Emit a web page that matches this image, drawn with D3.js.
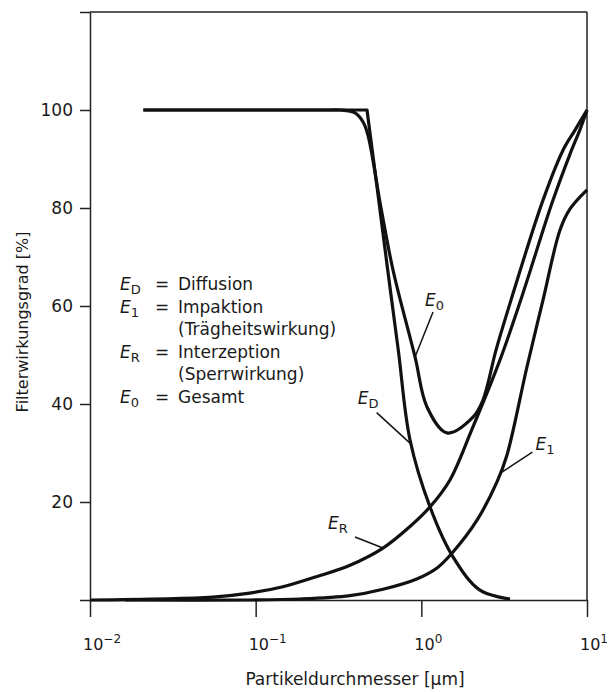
<!DOCTYPE html>
<html>
<head>
<meta charset="utf-8">
<script src="https://cdn.jsdelivr.net/npm/d3@7"></script>
<style>
body { margin: 0; background: #fff; }
text { font-family: "DejaVu Sans", sans-serif; fill: #1a1a1a; }
.axis path, .axis line { stroke: #222; stroke-width: 1.5px; }
</style>
</head>
<body>
<script>
// values: particle diameter [um] -> efficiency [%]
// (corner of the diffusion curve is listed twice to keep it sharp)
var diffD = [0.021, 0.47, 0.47, 0.543, 0.627, 0.726, 0.854, 1.128, 1.553, 2.26, 3.43];
var diffE = [100, 100, 100, 83.7, 67.3, 51.0, 32.7, 19.0, 8.8, 2.0, 0.2];

var totD = [0.021, 0.28, 0.323, 0.398, 0.444, 0.476, 0.571, 0.675, 0.916, 1.082, 1.428, 2.05, 2.356, 2.823, 3.477, 5.425, 7.164, 8.466, 10];
var totE = [100, 100, 100, 99.4, 97.6, 94.9, 80, 67.3, 49.6, 39.4, 34.1, 37.3, 40.8, 51.0, 61.2, 81.6, 91.8, 95.9, 100];

var intD = [0.01, 0.055, 0.092, 0.146, 0.235, 0.371, 0.587, 0.854, 1.128, 1.489, 2.014, 2.984, 4.052, 6.147, 7.896, 9.073, 10];
var intE = [0, 0.6, 1.4, 2.7, 4.8, 7.1, 10.6, 15.0, 19.0, 24.5, 34.7, 49.0, 62.0, 81.0, 91.0, 96.0, 100];

var impD = [0.0163, 0.092, 0.185, 0.371, 0.587, 0.938, 1.25, 1.553, 2.168, 2.862, 3.289, 4.343, 5.425, 6.871, 7.896, 10];
var impE = [0, 0, 0.2, 0.9, 2.2, 4.3, 6.6, 9.8, 16.3, 24.1, 29.6, 47.6, 61.2, 75.5, 79.8, 83.7];

var yTicks = [0, 20, 40, 60, 80, 100, 120];
var xTicks = [0.01, 0.1, 1, 10];
var xExp = ["\u22122", "\u22121", "0", "1"];

// curve labels: symbol subscript, point on curve
var annSub = ["0", "D", "1", "R"];
var annAt = [[0.916, 49.6], [0.874, 31.7], [3.0, 25.9], [0.587, 10.6]];

var legSub = ["D", "1", "", "R", "", "0"];
var legText = ["Diffusion", "Impaktion", "(Tr\u00e4gheitswirkung)", "Interzeption", "(Sperrwirkung)", "Gesamt"];

var w = 608, h = 692;

var svg = d3.select("body").append("svg")
    .attr("width", w)
    .attr("height", h);

var x = d3.scaleLog().domain([0.01, 10]).range([90, 587]);
var y = d3.scaleLinear().domain([0, 120]).range([600, 12]);

// y axis
svg.append("g")
    .attr("class", "axis")
    .attr("transform", "translate(" + x.range()[0] + ",0)")
    .call(d3.axisLeft(y).tickValues(yTicks).tickSize(10).tickSizeOuter(0).tickPadding(7)
        .tickFormat(function (d) { return (d > 0 && d < 120) ? d : ""; }))
    .call(function (g) { g.selectAll("text").style("font-size", "17px").attr("fill", "#1a1a1a"); });

// x axis
svg.append("g")
    .attr("class", "axis")
    .attr("transform", "translate(0," + y(0) + ")")
    .call(d3.axisBottom(x).tickValues(xTicks).tickSize(17).tickSizeOuter(0).tickFormat(""));

var xl = svg.selectAll(".xlab")
    .data(xTicks)
    .enter()
    .append("text")
    .attr("class", "xlab")
    .attr("x", function (d) { return x(d) - 7; })
    .attr("y", 650)
    .style("font-size", "16px");
xl.append("tspan").text("10");
xl.append("tspan")
    .attr("dy", -7)
    .style("font-size", "12px")
    .text(function (d, i) { return xExp[i]; });

// frame: top and right
svg.append("line")
    .attr("x1", x.range()[0]).attr("x2", x.range()[1])
    .attr("y1", y(120)).attr("y2", y(120))
    .style("stroke", "#222").style("stroke-width", 1.5);
svg.append("line")
    .attr("x1", x.range()[1]).attr("x2", x.range()[1])
    .attr("y1", y(120)).attr("y2", y(0))
    .style("stroke", "#222").style("stroke-width", 1.5);

// axis titles
svg.append("text")
    .attr("transform", "translate(28,322) rotate(-90)")
    .attr("text-anchor", "middle")
    .style("font-size", "16px")
    .text("Filterwirkungsgrad [%]");

svg.append("text")
    .attr("x", 355)
    .attr("y", 685)
    .attr("text-anchor", "middle")
    .style("font-size", "17px")
    .text("Partikeldurchmesser [\u00b5m]");

// curves
var line = d3.line()
    .x(function (d) { return x(d[0]); })
    .y(function (d) { return y(d[1]); })
    .curve(d3.curveCatmullRom.alpha(0.5));

var series = [d3.zip(diffD, diffE), d3.zip(totD, totE), d3.zip(intD, intE), d3.zip(impD, impE)];

svg.selectAll(".curve")
    .data(series)
    .enter()
    .append("path")
    .attr("class", "curve")
    .attr("d", line)
    .style("fill", "none")
    .style("stroke", "#111")
    .style("stroke-width", 3.2)
    .style("stroke-linejoin", "round");

// curve labels with leader lines
var leadOff = [[18, -45], [-35, -32], [32, -21], [-28, -11]];
var textOff = [[10, -51], [-54, -41], [35, -23], [-55, -19]];

svg.selectAll(".lead")
    .data(annAt)
    .enter()
    .append("line")
    .attr("class", "lead")
    .attr("x1", function (d) { return x(d[0]); })
    .attr("y1", function (d) { return y(d[1]); })
    .attr("x2", function (d, i) { return x(d[0]) + leadOff[i][0]; })
    .attr("y2", function (d, i) { return y(d[1]) + leadOff[i][1]; })
    .style("stroke", "#111")
    .style("stroke-width", 1.5);

var al = svg.selectAll(".ann")
    .data(annAt)
    .enter()
    .append("text")
    .attr("class", "ann")
    .attr("x", function (d, i) { return x(d[0]) + textOff[i][0]; })
    .attr("y", function (d, i) { return y(d[1]) + textOff[i][1]; })
    .style("font-size", "17px");
al.append("tspan").style("font-style", "italic").text("E");
al.append("tspan").attr("dy", 4).style("font-size", "13px")
    .text(function (d, i) { return annSub[i]; });

// legend
var lg = svg.selectAll(".leg")
    .data(legText)
    .enter()
    .append("g")
    .attr("class", "leg")
    .attr("transform", function (d, i) { return "translate(120," + (290 + i * 22.6) + ")"; })
    .style("font-size", "17px");

lg.filter(function (d, i) { return legSub[i] !== ""; })
    .each(function (d) {
        var i = legText.indexOf(d);
        var t = d3.select(this).append("text");
        t.append("tspan").style("font-style", "italic").text("E");
        t.append("tspan").attr("dy", 4).style("font-size", "13px").text(legSub[i]);
        d3.select(this).append("text").attr("x", 42).attr("text-anchor", "middle").text("=");
    });

lg.append("text")
    .attr("x", 58)
    .text(function (d) { return d; });
</script>
</body>
</html>
